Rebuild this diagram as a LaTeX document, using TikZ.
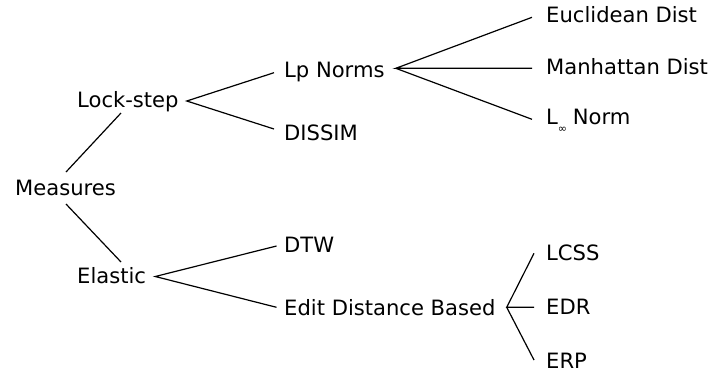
\documentclass[tikz,border=0pt]{standalone}
\usepackage{fontspec}
\setmainfont{DejaVu Sans}
\usetikzlibrary{calc}
\begin{document}
\begin{tikzpicture}[x=1pt,y=-1pt,
  lbl/.style={anchor=base west,inner sep=0pt,font=\fontsize{21.1}{25}\selectfont},
  edge/.style={line width=1.2pt,black}]
\useasboundingbox (0,0) rectangle (709,373);
% nodes
\node[lbl] (meas) at (15,195) {Measures};
\node[lbl] (lock) at (77,107) {Lock-step};
\node[lbl] (elas) at (77,283.5) {Elastic};
\node[lbl] (lp) at (284,77) {Lp Norms};
\node[lbl] (dis) at (284,140.7) {DISSIM};
\node[lbl] (dtw) at (284,252.5) {DTW};
\node[lbl] (edit) at (284,315.5) {Edit Distance Based};
\node[lbl] (euc) at (546,22.7) {Euclidean Dist};
\node[lbl] (man) at (546,74.5) {Manhattan Dist};
\node[lbl] (linf) at (546,124.5) {L\raisebox{-8pt}{\fontsize{11}{11}\selectfont ∞}\hspace{-1pt} Norm};
\node[lbl] (lcss) at (546,260.5) {LCSS};
\node[lbl] (edr) at (546,314.8) {EDR};
\node[lbl] (erp) at (546,368.8) {ERP};
% connectors
\draw[edge] ($(meas.base west)+(51,-23)$) -- ($(lock.base west)+(44,6)$);
\draw[edge] ($(meas.base west)+(51,9)$) -- ($(elas.base west)+(44,-21.5)$);
\draw[edge] ($(lp.base west)+(-10,-4.3)$) -- ($(lock.base east)+(8,-6)$) -- ($(dis.base west)+(-10,-11.7)$);
\draw[edge] ($(euc.base west)+(-14,-5.4)$) -- ($(lp.base east)+(11,-8.7)$) -- ($(man.base west)+(-14,-6.2)$);
\draw[edge] ($(lp.base east)+(11,-8.7)$) -- ($(linf.base west)+(-14,-5.2)$);
\draw[edge] ($(dtw.base west)+(-7.5,-6.5)$) -- ($(elas.base east)+(9,-7)$) -- ($(edit.base west)+(-7.5,-8.2)$);
\draw[edge] ($(lcss.base west)+(-12,-7.2)$) -- ($(edit.base east)+(11,-8.2)$) -- ($(edr.base west)+(-12,-7.5)$);
\draw[edge] ($(edit.base east)+(11,-8.2)$) -- ($(erp.base west)+(-12,-8.8)$);
\end{tikzpicture}
\end{document}
